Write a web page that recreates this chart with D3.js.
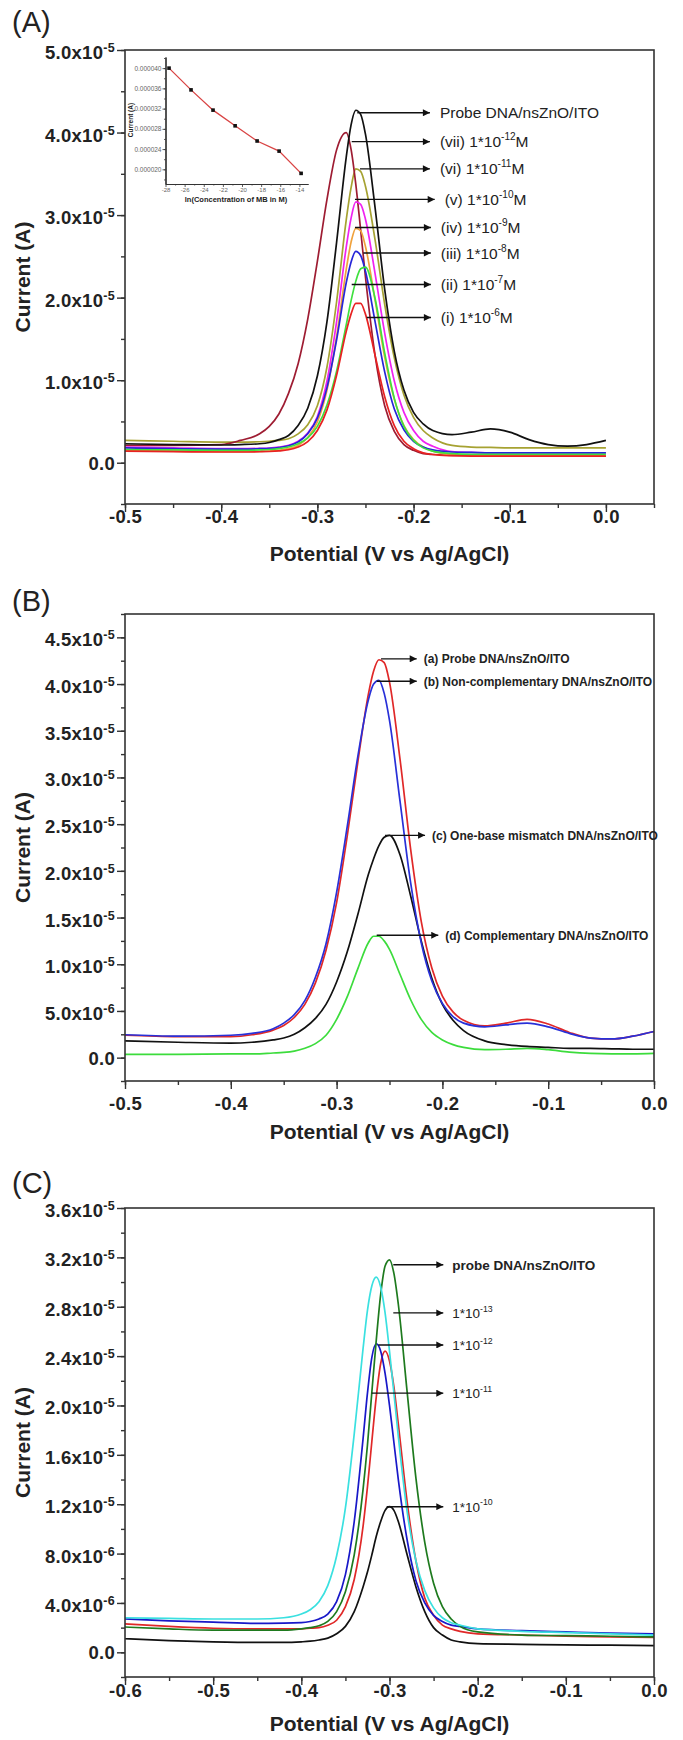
<!DOCTYPE html>
<html>
<head>
  <meta charset="utf-8"/>
  <title>DPV response curves</title>
  <script src="https://d3js.org/d3.v7.min.js"></script>
  <style>
    html, body { margin: 0; padding: 0; background: #fff; }
    svg { display: block; font-family: "Liberation Sans", Arial, sans-serif; }
    .frame { fill: none; stroke: #333; stroke-width: 1.6px; }
    .axis path.domain { display: none; }
    .axis line { stroke: #333; stroke-width: 1.4px; }
    .curve { fill: none; stroke-width: 1.7px; }
    .tick-label { font-weight: bold; font-size: 18.5px; fill: #222; letter-spacing: 0.3px; }
    .title { font-weight: bold; font-size: 21px; fill: #222; }
    .tag { font-size: 29px; fill: #222; }
    .arrow { stroke: #111; stroke-width: 1.4px; }
  </style>
</head>
<body>
<div id="chart"></div>
<script>
// ---- potential grids (V vs Ag/AgCl) ----
const potentialAB = [-0.5, -0.45, -0.40, -0.38, -0.36, -0.35, -0.34, -0.33, -0.32, -0.31,
  -0.30, -0.29, -0.28, -0.27, -0.265, -0.26, -0.255, -0.25, -0.24, -0.23,
  -0.22, -0.21, -0.20, -0.19, -0.18, -0.16, -0.14, -0.12, -0.10, -0.08,
  -0.06, -0.04, -0.02, 0.0];
const potentialC = [-0.6, -0.55, -0.5, -0.45, -0.42, -0.40, -0.39, -0.38, -0.37, -0.36,
  -0.35, -0.34, -0.33, -0.325, -0.32, -0.315, -0.31, -0.305, -0.30, -0.295,
  -0.29, -0.28, -0.27, -0.26, -0.25, -0.24, -0.23, -0.22, -0.20, -0.15,
  -0.10, -0.05, 0.0];

// ---- currents, in units of 1e-5 A ----
// panel A
const aProbe = [.23,.22,.215,.22,.23,.245,.28,.33,.45,.66, 1.05,1.71,2.67,3.70,4.09,4.27,4.22,3.98,3.09,2.10, 1.35,.88,.61,.47,.39,.34,.37,.41,.37,.28, .22,.20,.22,.27];
const a1e12 = [.21,.21,.22,.27,.35,.44,.59,.84,1.20,1.74, 2.44,3.19,3.79,4.00,3.80,3.37,2.82,2.25,1.30,.69, .38,.22,.15,.11,.10,.09,.09,.085,.085,.08, .08,.08,.08,.08];
const a1e11 = [.27,.26,.25,.25,.254,.26,.27,.29,.35,.46, .69,1.16,1.95,2.94,3.33,3.56,3.53,3.35,2.70,1.92, 1.27,.82,.55,.39,.30,.21,.19,.185,.18,.18, .18,.18,.18,.18];
const a1e10 = [.19,.18,.17,.17,.174,.178,.19,.21,.26,.36, .56,.99,1.71,2.61,2.96,3.16,3.13,2.95,2.29,1.57, .99,.61,.39,.26,.20,.135,.125,.12,.12,.12, .12,.12,.12,.12];
const a1e9 = [.15,.14,.135,.135,.138,.142,.15,.17,.21,.305, .495,.88,1.53,2.34,2.67,2.84,2.81,2.62,1.97,1.28, .77,.45,.28,.19,.14,.10,.095,.09,.09,.09, .09,.09,.09,.09];
const a1e8 = [.18,.17,.165,.165,.17,.174,.184,.205,.25,.35, .54,.91,1.49,2.18,2.43,2.56,2.51,2.32,1.71,1.10, .65,.40,.26,.19,.155,.13,.125,.12,.12,.12, .12,.12,.12,.12];
const a1e7 = [.16,.155,.15,.15,.155,.16,.17,.19,.23,.30, .44,.70,1.11,1.67,1.96,2.20,2.35,2.37,1.99,1.33, .78,.44,.27,.18,.14,.11,.10,.10,.10,.10, .10,.10,.10,.10];
const a1e6 = [.14,.135,.13,.13,.133,.136,.143,.157,.19,.256, .39,.64,1.06,1.59,1.80,1.93,1.93,1.80,1.30,.80, .45,.26,.17,.12,.10,.085,.08,.08,.08,.08, .08,.08,.08,.08];
// panel B
const bProbe = [.24,.225,.225,.245,.295,.345,.43,.57,.80,1.15, 1.66,2.37,3.16,3.89,4.14,4.26,4.23,4.02,3.19,2.23, 1.46,.96,.66,.49,.40,.34,.37,.41,.36,.27, .21,.20,.23,.28];
const bNonComp = [.245,.23,.24,.26,.31,.37,.46,.61,.86,1.22, 1.77,2.47,3.22,3.83,4.00,4.04,3.90,3.61,2.74,1.87, 1.23,.82,.58,.44,.37,.33,.35,.37,.33,.26, .21,.20,.23,.28];
const bMismatch = [.18,.165,.155,.165,.19,.21,.25,.32,.42,.57, .81,1.13,1.53,1.96,2.13,2.27,2.36,2.38,2.17,1.73, 1.25,.85,.57,.40,.29,.18,.14,.12,.11,.10, .10,.095,.09,.09];
const bComp = [.035,.035,.04,.04,.05,.056,.07,.10,.15,.24, .41,.65,.95,1.23,1.30,1.30,1.25,1.16,.89,.62, .41,.27,.19,.14,.11,.085,.09,.10,.085,.06, .045,.04,.04,.045];
// panel C
const cProbe = [.205,.19,.18,.18,.18,.19,.20,.215,.25,.33, .49,.79,1.32,1.68,2.11,2.53,2.90,3.13,3.18,3.07, 2.82,2.11,1.41,.89,.56,.37,.27,.21,.165,.14, .135,.13,.125];
const c1e13 = [.28,.275,.27,.27,.28,.31,.345,.41,.54,.78, 1.17,1.77,2.46,2.77,2.97,3.04,2.96,2.75,2.44,2.10, 1.75,1.14,.74,.50,.36,.28,.24,.22,.19,.17, .16,.15,.14];
const c1e12 = [.27,.255,.245,.235,.236,.24,.25,.27,.31,.41, .63,1.06,1.73,2.10,2.39,2.50,2.44,2.26,2.00,1.70, 1.40,.91,.58,.40,.30,.25,.22,.21,.19,.175, .165,.155,.15];
const c1e11 = [.23,.21,.195,.19,.19,.19,.195,.20,.22,.26, .37,.59,1.02,1.34,1.71,2.07,2.34,2.44,2.36,2.15, 1.85,1.22,.74,.44,.30,.22,.19,.17,.15,.14, .13,.125,.12];
const c1e10 = [.11,.095,.085,.08,.08,.085,.09,.10,.115,.15, .21,.33,.53,.65,.79,.94,1.06,1.15,1.18,1.15, 1.06,.79,.53,.33,.20,.14,.10,.085,.07,.065, .06,.058,.055];

// inset: ln(concentration) vs peak current (1e-5 A)
const insetLnConc = [-27.63, -25.33, -23.03, -20.72, -18.42, -16.12, -13.82];
const insetCurrent = [4.00, 3.57, 3.17, 2.86, 2.56, 2.36, 1.92];

// ticks
const xTicksAB = [-0.5, -0.4, -0.3, -0.2, -0.1, 0.0];
const xTicksC = [-0.6, -0.5, -0.4, -0.3, -0.2, -0.1, 0.0];
const yTicksA = [0, 1, 2, 3, 4, 5];
const yTicksB = [0, 0.5, 1, 1.5, 2, 2.5, 3, 3.5, 4, 4.5];
const yTicksC = [0, 0.4, 0.8, 1.2, 1.6, 2.0, 2.4, 2.8, 3.2, 3.6];
const insetXTicks = [-28, -26, -24, -22, -20, -18, -16, -14];
const insetYTicks = [2.0, 2.4, 2.8, 3.2, 3.6, 4.0];

// arrow annotations (data coords)
const annotA = [
  {x1: -0.2585, x2: -0.183, y: 4.24, text: "Probe DNA/nsZnO/ITO"},
  {x1: -0.2643, x2: -0.183, y: 3.89, text: "(vii) 1*10", sup: "-12", after: "M"},
  {x1: -0.2557, x2: -0.183, y: 3.56, text: "(vi) 1*10", sup: "-11", after: "M"},
  {x1: -0.2609, x2: -0.178, y: 3.19, text: "(v) 1*10", sup: "-10", after: "M"},
  {x1: -0.2609, x2: -0.182, y: 2.85, text: "(iv) 1*10", sup: "-9", after: "M"},
  {x1: -0.2522, x2: -0.182, y: 2.54, text: "(iii) 1*10", sup: "-8", after: "M"},
  {x1: -0.2643, x2: -0.182, y: 2.16, text: "(ii) 1*10", sup: "-7", after: "M"},
  {x1: -0.2487, x2: -0.182, y: 1.76, text: "(i) 1*10", sup: "-6", after: "M"}
];
const annotB = [
  {x1: -0.258, x2: -0.2243, y: 4.27, text: "(a) Probe DNA/nsZnO/ITO"},
  {x1: -0.2621, x2: -0.2243, y: 4.03, text: "(b) Non-complementary DNA/nsZnO/ITO"},
  {x1: -0.2543, x2: -0.2164, y: 2.38, text: "(c) One-base mismatch DNA/nsZnO/ITO"},
  {x1: -0.2621, x2: -0.2039, y: 1.31, text: "(d) Complementary DNA/nsZnO/ITO"}
];
const annotC = [
  {x1: -0.2957, x2: -0.239, y: 3.14, text: "probe DNA/nsZnO/ITO"},
  {x1: -0.2957, x2: -0.239, y: 2.75, text: "1*10", sup: "-13"},
  {x1: -0.3127, x2: -0.239, y: 2.49, text: "1*10", sup: "-12"},
  {x1: -0.3202, x2: -0.239, y: 2.10, text: "1*10", sup: "-11"},
  {x1: -0.3032, x2: -0.239, y: 1.18, text: "1*10", sup: "-10"}
];

const svg = d3.select("#chart").append("svg")
  .attr("width", 683)
  .attr("height", 1740);

svg.append("defs").append("marker")
  .attr("id", "head")
  .attr("viewBox", "0 0 10 10")
  .attr("refX", 10).attr("refY", 5)
  .attr("markerUnits", "userSpaceOnUse")
  .attr("markerWidth", 9).attr("markerHeight", 7)
  .attr("orient", "auto")
  .append("path").attr("d", "M0,0 L10,5 L0,10 z").attr("fill", "#111");

function minorTicks(domain, step) {
  const out = [];
  const n0 = Math.ceil(domain[0] / step - 1e-9), n1 = Math.floor(domain[1] / step + 1e-9);
  for (let k = n0; k <= n1; k++) out.push(+(k * step).toFixed(6));
  return out;
}

// value in 1e-5 A -> ["m.mx10", "exp"]
function sciParts(v) {
  const a = v * 1e-5;
  if (Math.abs(a) < 1e-12) return null;
  const e = Math.floor(Math.log10(a) + 1e-9);
  return [(a / Math.pow(10, e)).toFixed(1) + "x10", String(e)];
}

function drawPanel(p) {
  const g = svg.append("g");
  const x = d3.scaleLinear().domain(p.xDomain).range([p.left, p.right]);
  const y = d3.scaleLinear().domain(p.yDomain).range([p.bottom, p.top]);

  // y axis: minor then major ticks, outward
  g.append("g").attr("class", "axis").attr("transform", `translate(${p.left},0)`)
    .call(d3.axisLeft(y).tickValues(minorTicks(p.yDomain, p.yMinor)).tickSize(4).tickFormat(""));
  const yAx = g.append("g").attr("class", "axis").attr("transform", `translate(${p.left},0)`)
    .call(d3.axisLeft(y).tickValues(p.yTicks).tickSize(8).tickFormat(""));
  yAx.selectAll(".tick").each(function(v) {
    const t = d3.select(this).append("text").attr("class", "tick-label")
      .attr("x", -10).attr("text-anchor", "end");
    const parts = sciParts(v);
    if (!parts) {
      t.attr("y", 6.5).text("0.0");
    } else {
      t.attr("y", 8.5);
      t.append("tspan").text(parts[0]);
      t.append("tspan").attr("dy", -7).style("font-size", "12.5px").text(parts[1]);
    }
  });

  // x axis
  g.append("g").attr("class", "axis").attr("transform", `translate(0,${p.bottom})`)
    .call(d3.axisBottom(x).tickValues(minorTicks(p.xDomain, 0.05)).tickSize(4).tickFormat(""));
  const xAx = g.append("g").attr("class", "axis").attr("transform", `translate(0,${p.bottom})`)
    .call(d3.axisBottom(x).tickValues(p.xTicks).tickSize(8).tickFormat(""));
  xAx.selectAll(".tick").append("text").attr("class", "tick-label")
    .attr("y", p.tickLabelY - p.bottom).attr("text-anchor", "middle")
    .text(v => v.toFixed(1));

  // curves
  const line = d3.line()
    .x((d, i) => x(p.grid[i]))
    .y(d => y(d))
    .curve(d3.curveMonotoneX);
  p.series.forEach(([vals, color]) => {
    g.append("path").attr("class", "curve").attr("stroke", color).attr("d", line(vals));
  });

  // frame
  g.append("rect").attr("class", "frame")
    .attr("x", p.left).attr("y", p.top)
    .attr("width", p.right - p.left).attr("height", p.bottom - p.top);

  // arrows and their labels
  p.annot.forEach(a => {
    g.append("line").attr("class", "arrow")
      .attr("x1", x(a.x1)).attr("x2", x(a.x2))
      .attr("y1", y(a.y)).attr("y2", y(a.y))
      .attr("marker-end", "url(#head)");
    const t = g.append("text")
      .attr("x", x(a.x2) + p.labelGap).attr("y", y(a.y) + p.labelSize * 0.36)
      .style("font-size", p.labelSize + "px")
      .style("font-weight", a.sup ? p.supWeight : p.labelWeight)
      .attr("fill", "#222");
    t.append("tspan").text(a.text);
    if (a.sup) {
      t.append("tspan").attr("dy", -p.labelSize * 0.45)
        .style("font-size", (p.labelSize * 0.65) + "px").text(a.sup);
      if (a.after) t.append("tspan").attr("dy", p.labelSize * 0.45).text(a.after);
    }
  });

  // panel tag and titles
  svg.append("text").attr("class", "tag").attr("x", 12).attr("y", p.tagY).text(p.tag);
  svg.append("text").attr("class", "title")
    .attr("x", (p.left + p.right) / 2).attr("y", p.titleY)
    .attr("text-anchor", "middle").text("Potential (V vs Ag/AgCl)");
  svg.append("text").attr("class", "title")
    .attr("transform", `translate(30,${(p.top + p.bottom) / 2}) rotate(-90)`)
    .attr("text-anchor", "middle").text("Current (A)");
  return {x, y};
}

drawPanel({
  left: 125, right: 654, top: 50, bottom: 504,
  xDomain: [-0.5, 0.05], yDomain: [-0.5, 5.0],
  xTicks: xTicksAB, yTicks: yTicksA, yMinor: 0.5,
  grid: potentialAB,
  series: [[a1e11, "#A6A232"], [a1e12, "#9E1C32"], [a1e10, "#F022F0"], [a1e9, "#F0A23C"],
           [a1e8, "#2626D8"], [a1e7, "#3EE03E"], [a1e6, "#E82222"], [aProbe, "#111"]],
  annot: annotA, labelGap: 10, labelSize: 15.5, labelWeight: "normal", supWeight: "normal",
  tag: "(A)", tagY: 32, tickLabelY: 523, titleY: 561
});

drawPanel({
  left: 125, right: 654, top: 614, bottom: 1081,
  xDomain: [-0.5, 0.0], yDomain: [-0.25, 4.75],
  xTicks: xTicksAB, yTicks: yTicksB, yMinor: 0.25,
  grid: potentialAB,
  series: [[bComp, "#3CDC3C"], [bMismatch, "#111"], [bProbe, "#E02828"], [bNonComp, "#2830D8"]],
  annot: annotB, labelGap: 7, labelSize: 12, labelWeight: "bold", supWeight: "bold",
  tag: "(B)", tagY: 611, tickLabelY: 1110, titleY: 1139
});

drawPanel({
  left: 125, right: 654, top: 1208, bottom: 1677,
  xDomain: [-0.6, 0.0], yDomain: [-0.2, 3.6],
  xTicks: xTicksC, yTicks: yTicksC, yMinor: 0.2,
  grid: potentialC,
  series: [[c1e10, "#111"], [c1e11, "#E02828"], [c1e12, "#1818C8"], [cProbe, "#1E7A1E"], [c1e13, "#3AE0E0"]],
  annot: annotC, labelGap: 9, labelSize: 13.5, labelWeight: "bold", supWeight: "normal",
  tag: "(C)", tagY: 1193, tickLabelY: 1697, titleY: 1731
});

// ---- inset of panel A ----
const inset = svg.append("g");
const ix = d3.scaleLinear().domain([-28, -13.1]).range([165.5, 308]);
const iy = d3.scaleLinear().domain([1.71, 4.22]).range([184, 57]);

const iyAxis = inset.append("g").attr("transform", "translate(165.5,0)")
  .call(d3.axisLeft(iy).tickValues(insetYTicks).tickSize(3).tickSizeOuter(0)
    .tickPadding(1).tickFormat(v => (v * 1e-5).toFixed(6)));
inset.append("g").attr("transform", "translate(165.5,0)")
  .call(d3.axisLeft(iy).tickValues(minorTicks([1.71, 4.22], 0.2)).tickSize(1.5).tickSizeOuter(0).tickFormat(""));
const ixAxis = inset.append("g").attr("transform", "translate(0,184)")
  .call(d3.axisBottom(ix).tickValues(insetXTicks).tickSize(3).tickSizeOuter(0)
    .tickPadding(1).tickFormat(v => String(v)));
inset.append("g").attr("transform", "translate(0,184)")
  .call(d3.axisBottom(ix).tickValues(d3.range(-27, -13, 2)).tickSize(1.5).tickSizeOuter(0).tickFormat(""));
inset.selectAll("path.domain").attr("stroke", "#333").attr("stroke-width", 1.2);
inset.selectAll(".tick line").attr("stroke", "#333").attr("stroke-width", 0.8);
iyAxis.selectAll("text").style("font-size", "6.5px").attr("fill", "#666")
  .style("font-family", "'Liberation Sans', Arial, sans-serif");
ixAxis.selectAll("text").style("font-size", "6px").attr("fill", "#666")
  .style("font-family", "'Liberation Sans', Arial, sans-serif");

inset.append("path")
  .datum(insetLnConc.map((v, i) => [v, insetCurrent[i]]))
  .attr("fill", "none").attr("stroke", "#D94444").attr("stroke-width", 1.3)
  .attr("d", d3.line().x(d => ix(d[0])).y(d => iy(d[1])));
inset.selectAll("rect.pt")
  .data(insetLnConc.map((v, i) => [v, insetCurrent[i]]))
  .enter().append("rect").attr("class", "pt")
  .attr("x", d => ix(d[0]) - 1.8).attr("y", d => iy(d[1]) - 1.8)
  .attr("width", 3.6).attr("height", 3.6).attr("fill", "#111");

inset.append("text")
  .attr("x", 236).attr("y", 202).attr("text-anchor", "middle")
  .style("font-size", "7.5px").style("font-weight", "bold").attr("fill", "#222")
  .text("ln(Concentration of MB in M)");
inset.append("text")
  .attr("transform", "translate(133,120) rotate(-90)").attr("text-anchor", "middle")
  .style("font-size", "6.5px").style("font-weight", "bold").attr("fill", "#222")
  .text("Current (A)");
</script>
</body>
</html>
